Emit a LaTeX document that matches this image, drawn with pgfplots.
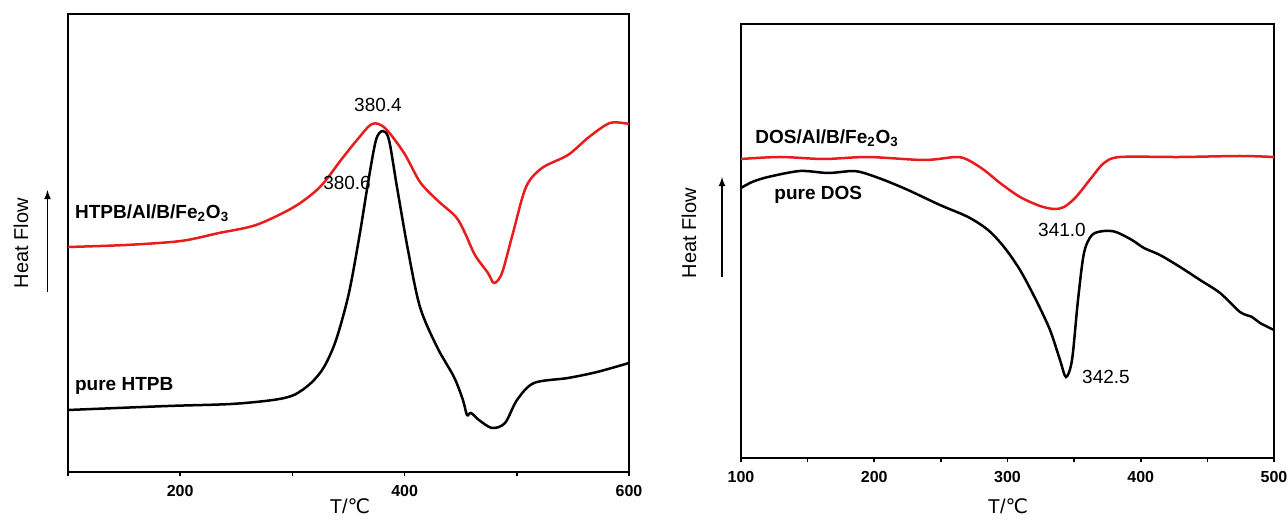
\documentclass[border=0pt]{standalone}
\usepackage{fontspec}
\setmainfont{Liberation Sans}
\newfontfamily\dejavu{DejaVu Sans}
\usepackage{pgfplots}
\pgfplotsset{compat=1.18}
\definecolor{dscred}{RGB}{232,28,28}

\pgfplotsset{
  dscpanel/.style={
    scale only axis,
    axis line style={line width=1pt},
    ytick=\empty,
    xtick pos=bottom,
    tick align=outside,
    major tick length=2.2pt,
    minor tick length=2.2pt,
    every tick/.style={black, line width=0.8pt},
    /pgf/number format/assume math mode=true,
    xticklabel style={font=\bfseries\fontsize{8}{9}\selectfont, yshift=-1pt},
  },
}
\tikzset{
  curve/.style={line width=1.25pt, smooth},
  curvelabel/.style={anchor=west, inner sep=0pt, font=\bfseries\fontsize{9.5}{11}\selectfont},
  peaklabel/.style={font=\fontsize{9.5}{11}\selectfont},
}

\begin{document}
\begin{tikzpicture}[x=1pt,y=1pt]
\path[use as bounding box] (0,0) rectangle (644,259.5);

% left: HTPB
\begin{axis}[dscpanel, at={(34pt,23.5pt)}, anchor=south west,
    width=280.5pt, height=229pt,
    xmin=100, xmax=600, ymin=0, ymax=458,
    xtick={200,400,600}, minor xtick={100,300,500}]
\addplot[curve, dscred] coordinates {
 (100,225) (151.7,227) (200.7,231) (234.6,239) (267.6,247) (301.4,265)
 (324.6,285) (343.3,312) (357.6,332) (371,348) (382.5,344) (399.5,319)
 (413.7,290) (428.9,272) (445.8,255) (453.8,239) (462.7,217) (474.3,199)
 (479.7,189) (486.8,199) (496.6,239) (508.2,285) (522.5,304) (545.6,317)
 (564.4,335) (583.1,349) (600,348)};
\addplot[curve, black] coordinates {
 (100,62) (189.1,66) (245.3,68) (282.7,72) (301.4,77) (316.6,89)
 (328.2,105) (338.9,132) (350.4,179) (360.2,239) (367.4,289) (374.5,332)
 (380.7,341) (386.1,332) (393.2,285) (403.0,222) (413.7,165) (428.9,125)
 (444.0,95) (452.0,72) (455.6,57) (459.2,59) (466.3,52) (477.9,44)
 (489.5,49) (500.2,72) (515.3,89) (545.6,94) (571.5,100) (600,109)};
\node[peaklabel] at (axis cs:376.3,367) {380.4};
\node[peaklabel] at (axis cs:348.7,289) {380.6};
\node[curvelabel] at (axis cs:106,259) {HTPB/Al/B/Fe\textsubscript{2}O\textsubscript{3}};
\node[curvelabel] at (axis cs:106,86) {pure HTPB};
\end{axis}

% right: DOS
\begin{axis}[dscpanel, at={(370.5pt,30.5pt)}, anchor=south west,
    width=266.5pt, height=217pt,
    xmin=100, xmax=500, ymin=0, ymax=434,
    xtick={100,200,300,400,500}, minor xtick={150,250,350,450}]
\addplot[curve, dscred] coordinates {
 (100,299) (129.3,301) (162.3,299) (195.3,301) (237.3,298) (261.4,301)
 (270.4,298) (282.4,288) (294.4,275) (309.4,261) (324.4,252) (334.9,249)
 (342.4,251) (351.4,261) (363.4,281) (372.4,295) (384.4,301) (429.5,301)
 (474.5,302) (500,301)};
\addplot[curve, black] coordinates {
 (100,270) (108.3,276) (120.3,281) (144.3,287) (165.3,285) (183.3,287)
 (192.3,285) (207.3,278) (225.3,268) (249.3,253) (270.4,241) (285.4,228)
 (297.4,211) (309.4,188) (321.4,158) (331.9,128) (339.4,98) (343.9,81)
 (348.4,98) (352.9,158) (357.4,205) (363.4,223) (372.4,227) (381.4,226)
 (393.4,218) (402.4,210) (414.4,203) (429.5,191) (444.5,178) (459.5,165)
 (474.5,146) (483.5,141) (489.5,135) (500,128)};
\node[peaklabel] at (axis cs:340.9,228) {341.0};
\node[peaklabel] at (axis cs:373.9,81) {342.5};
\node[curvelabel] at (axis cs:110.5,320) {DOS/Al/B/Fe\textsubscript{2}O\textsubscript{3}};
\node[curvelabel] at (axis cs:124.8,263) {pure DOS};
\end{axis}

% axis titles and heat-flow arrows
\node[rotate=90, font=\fontsize{10}{12}\selectfont] at (10.5,138) {Heat Flow};
\draw[-latex, line width=0.6pt] (23.75,113.5) -- (23.75,164.5);
\node[font=\fontsize{10}{12}\selectfont] at (175,6.5) {T/{\dejavu ℃}};
\node[rotate=90, font=\fontsize{10}{12}\selectfont] at (344.5,143) {Heat Flow};
\draw[-latex, line width=0.6pt] (361,121) -- (361,171);
\node[font=\fontsize{10}{12}\selectfont] at (504,6.5) {T/{\dejavu ℃}};
\end{tikzpicture}
\end{document}
